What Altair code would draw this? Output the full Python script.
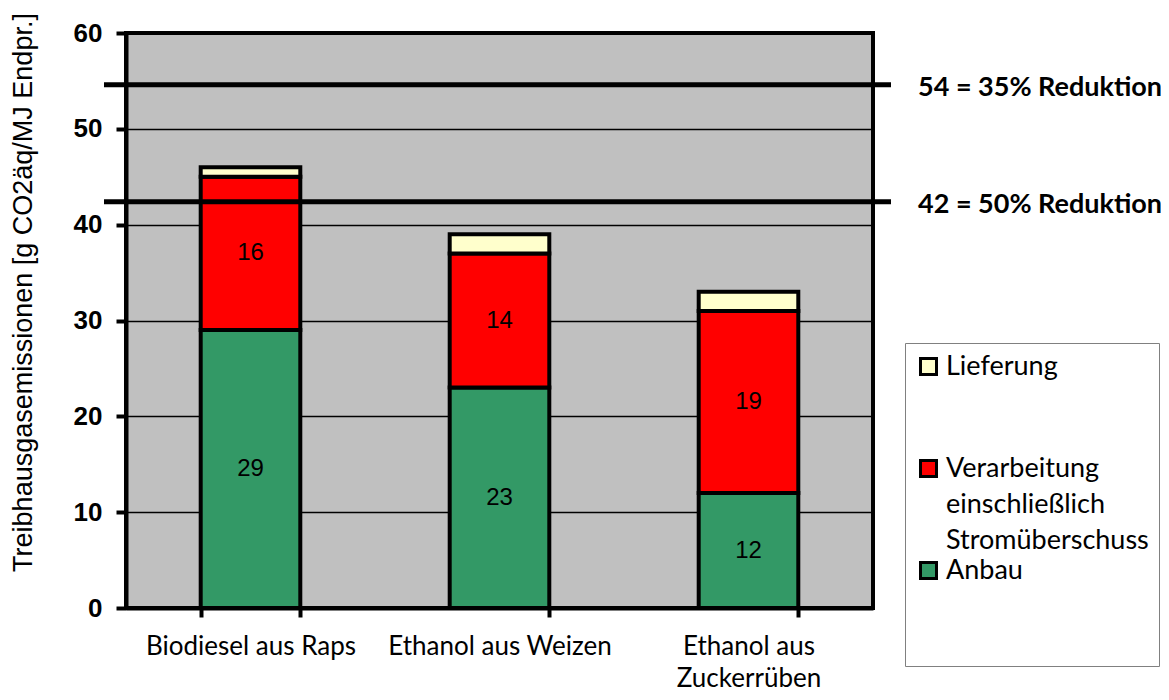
import altair as alt
import pandas as pd

categories = ["Biodiesel aus Raps", "Ethanol aus Weizen", "Ethanol aus\nZuckerrüben"]
stages = ["Lieferung", "Verarbeitung einschließlich Stromüberschuss", "Anbau"]
stage_colors = ["#FFFFCC", "#FF0000", "#339966"]
anbau = [29, 23, 12]
verarbeitung = [16, 14, 19]
lieferung = [1, 2, 2]
ref_values = [54.6, 42.4]
ref_labels = ["54 = 35% Reduktion", "42 = 50% Reduktion"]

rows = []
for i, cat in enumerate(categories):
    base = 0
    for order, (stage, vals, show) in enumerate([
        (stages[2], anbau, True),
        (stages[1], verarbeitung, True),
        (stages[0], lieferung, False),
    ]):
        v = vals[i]
        rows.append({
            "kategorie": cat,
            "stufe": stage,
            "wert": v,
            "ordnung": order,
            "mitte": base + v / 2,
            "beschriftung": str(v) if show else "",
        })
        base += v
df = pd.DataFrame(rows)
df_ref = pd.DataFrame({"wert": ref_values, "text": ref_labels})

x_enc = alt.X(
    "kategorie:N",
    sort=categories,
    scale=alt.Scale(paddingInner=0.6, paddingOuter=0.3),
    axis=alt.Axis(
        title=None,
        labelAngle=0,
        labelFont="Lato",
        labelFontSize=26,
        labelColor="black",
        labelLineHeight=32,
        labelPadding=29,
        labelLimit=400,
        labelExpr="split(datum.label, '\\n')",
        tickBand="extent",
        tickSize=9,
        tickWidth=4,
        tickColor="black",
        domainWidth=4,
        domainColor="black",
    ),
)

y_scale = alt.Scale(domain=[0, 60], nice=False)

bars = alt.Chart(df).mark_bar(stroke="black", strokeWidth=4).encode(
    x=x_enc,
    y=alt.Y(
        "wert:Q",
        stack="zero",
        scale=y_scale,
        axis=alt.Axis(
            values=[0, 10, 20, 30, 40, 50, 60],
            title="Treibhausgasemissionen [g CO2äq/MJ Endpr.]",
            titleFont="Liberation Sans",
            titleFontSize=27,
            titleFontWeight="normal",
            titleColor="black",
            titlePadding=36,
            titleY=259,
            labelFont="Liberation Sans",
            labelFontWeight="bold",
            labelFontSize=26,
            labelColor="black",
            labelPadding=14,
            labelOffset=13,
            tickSize=10,
            tickWidth=4,
            tickColor="black",
            domainWidth=4,
            domainColor="black",
            grid=True,
            gridColor="black",
            gridWidth=1.5,
        ),
    ),
    color=alt.Color(
        "stufe:N",
        scale=alt.Scale(domain=stages, range=stage_colors),
        legend=alt.Legend(
            title=None,
            orient="none",
            legendX=779,
            legendY=310,
            symbolType="square",
            symbolSize=256,
            symbolStrokeWidth=3,
            symbolStrokeColor="black",
            symbolOpacity=1,
            labelFont="Lato",
            labelFontSize=27,
            labelColor="black",
            labelLimit=400,
            labelBaseline="top",
            labelOffset=4,
            labelExpr="slice(split(datum.label + '  ', ' '), 0, 3)",
            rowPadding=2,
            padding=10,
            strokeColor="#808080",
            fillColor="white",
        ),
    ),
    order=alt.Order("ordnung:Q"),
)

bar_text = alt.Chart(df).mark_text(
    font="Liberation Sans", fontSize=24, color="black"
).encode(
    x=alt.X("kategorie:N", sort=categories),
    y=alt.Y("mitte:Q", scale=y_scale),
    text="beschriftung:N",
)

ref_rules = alt.Chart(df_ref).mark_rule(color="black", strokeWidth=5).encode(
    y=alt.Y("wert:Q", scale=y_scale),
    x=alt.value(-22),
    x2=alt.value(765),
)

ref_text = alt.Chart(df_ref).mark_text(
    font="Lato", fontSize=27, fontWeight="bold", color="black", align="left", dy=3
).encode(
    y=alt.Y("wert:Q", scale=y_scale),
    x=alt.value(792),
    text="text:N",
)

chart = alt.layer(bars, bar_text, ref_rules, ref_text).properties(
    width=747,
    height=575,
    padding={"left": 118, "top": 25, "right": 288, "bottom": 84},
    autosize=alt.AutoSizeParams(type="none"),
    background="white",
).configure(
    style={"guide-label": {"lineHeight": 36, "dy": -13}}
).configure_view(
    fill="#C0C0C0", stroke="black", strokeWidth=4
)

chart.save("out.html", embed_options={"renderer": "svg", "actions": False})
